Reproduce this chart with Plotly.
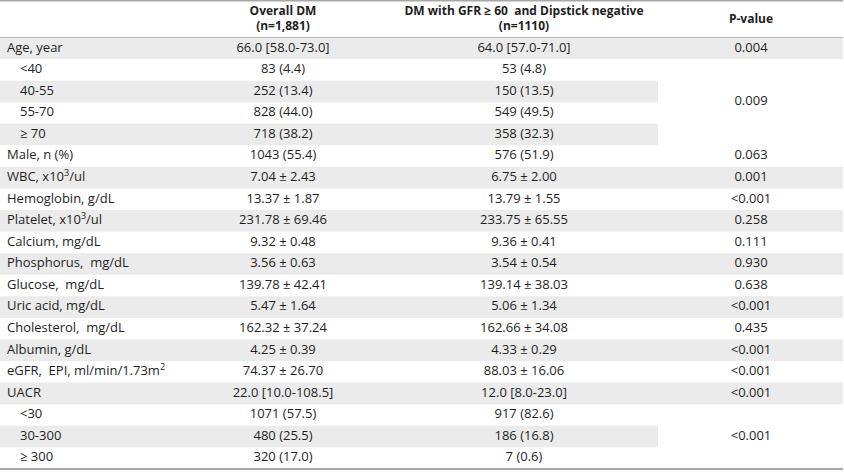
import plotly.graph_objects as go

labels = ["Age, year", "<40", "40-55", "55-70", "≥ 70", "Male, n (%)",
          "WBC, x10<sup>3</sup>/ul", "Hemoglobin, g/dL", "Platelet, x10<sup>3</sup>/ul",
          "Calcium, mg/dL", "Phosphorus, \u00a0mg/dL", "Glucose, \u00a0mg/dL", "Uric acid, mg/dL",
          "Cholesterol, \u00a0mg/dL", "Albumin, g/dL", "eGFR, \u00a0EPI, ml/min/1.73m<sup>2</sup>",
          "UACR", "<30", "30-300", "≥ 300"]
indented = [False, True, True, True, True, False, False, False, False, False,
            False, False, False, False, False, False, False, True, True, True]
overall = ["66.0 [58.0-73.0]", "83 (4.4)", "252 (13.4)", "828 (44.0)", "718 (38.2)",
           "1043 (55.4)", "7.04 ± 2.43", "13.37 ± 1.87", "231.78 ± 69.46", "9.32 ± 0.48",
           "3.56 ± 0.63", "139.78 ± 42.41", "5.47 ± 1.64", "162.32 ± 37.24", "4.25 ± 0.39",
           "74.37 ± 26.70", "22.0 [10.0-108.5]", "1071 (57.5)", "480 (25.5)", "320 (17.0)"]
dipstick = ["64.0 [57.0-71.0]", "53 (4.8)", "150 (13.5)", "549 (49.5)", "358 (32.3)",
            "576 (51.9)", "6.75 ± 2.00", "13.79 ± 1.55", "233.75 ± 65.55", "9.36 ± 0.41",
            "3.54 ± 0.54", "139.14 ± 38.03", "5.06 ± 1.34", "162.66 ± 34.08", "4.33 ± 0.29",
            "88.03 ± 16.06", "12.0 [8.0-23.0]", "917 (82.6)", "186 (16.8)", "7 (0.6)"]
# p-values: (first row, last row, value) - some span merged rows
p_groups = [(0, 0, "0.004"), (1, 4, "0.009"), (5, 5, "0.063"), (6, 6, "0.001"),
            (7, 7, "<0.001"), (8, 8, "0.258"), (9, 9, "0.111"), (10, 10, "0.930"),
            (11, 11, "0.638"), (12, 12, "<0.001"), (13, 13, "0.435"), (14, 14, "<0.001"),
            (15, 15, "<0.001"), (16, 16, "<0.001"), (17, 19, "<0.001")]
headers = [["Overall DM", "(n=1,881)"],
           ["DM with GFR ≥ 60 \u00a0and Dipstick negative", "(n=1110)"],
           ["P-value"]]

W, H = 844, 474
top, row_h = 37.5, 21.57
n = len(labels)
col_x = [177, 389, 658, 843]   # column edges
centers = [283, 524, 751]
font = "Open Sans"
txt = "#1e1e1e"

def py(p):
    # pixel row -> axis value
    return (p - top) / row_h - 0.5

fig = go.Figure()
shapes = []
merged = set()
for a, b, v in p_groups:
    if b > a:
        merged.update(range(a, b + 1))
for i in range(n):
    if i % 2 == 0:
        x1 = col_x[2] if i in merged else col_x[3]
        shapes.append(dict(type="rect", x0=0, x1=x1, y0=i - 0.5, y1=i + 0.5,
                           fillcolor="#ebebeb", line_width=0, layer="below"))
shapes.append(dict(type="line", x0=0, x1=col_x[3], y0=py(0.8), y1=py(0.8),
                   line=dict(color="#a8a8a8", width=1.5)))
shapes.append(dict(type="line", x0=0, x1=col_x[3], y0=-0.5, y1=-0.5,
                   line=dict(color="#b4b4b4", width=1)))
shapes.append(dict(type="line", x0=0, x1=col_x[3], y0=n - 0.5, y1=n - 0.5,
                   line=dict(color="#a8a8a8", width=2)))

rows = list(range(n))
fig.add_trace(go.Scatter(x=[20 if f else 7 for f in indented], y=rows, text=labels,
                         mode="text", textposition="middle right"))
fig.add_trace(go.Scatter(x=[centers[0]] * n, y=rows, text=overall, mode="text"))
fig.add_trace(go.Scatter(x=[centers[1]] * n, y=rows, text=dipstick, mode="text"))
fig.add_trace(go.Scatter(x=[centers[2]] * len(p_groups),
                         y=[(a + b) / 2 for a, b, v in p_groups],
                         text=[v for a, b, v in p_groups], mode="text"))
fig.update_traces(textfont=dict(family=font, size=13, color=txt), hoverinfo="skip")

# header: one text per column, lines joined with <br>
fig.add_trace(go.Scatter(x=centers, y=[py(19.5)] * len(centers),
                         text=["<br>".join("<b>%s</b>" % s for s in h) for h in headers],
                         mode="text", hoverinfo="skip",
                         textfont=dict(family=font, size=12, color=txt)))

fig.update_layout(width=W, height=H, margin=dict(l=0, r=0, t=0, b=0),
                  plot_bgcolor="white", paper_bgcolor="white", showlegend=False,
                  shapes=shapes)
fig.update_xaxes(range=[0, W], visible=False, fixedrange=True)
fig.update_yaxes(range=[py(H), py(0)], visible=False, fixedrange=True)
fig.write_html("out.html", config={"displayModeBar": False},
               post_script="document.body.style.margin='0';")
